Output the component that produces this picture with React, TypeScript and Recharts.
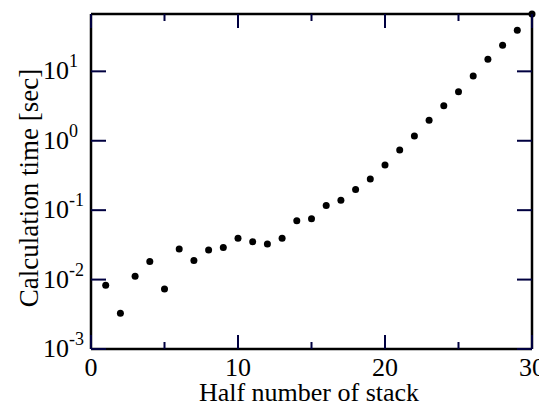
import React from "react";
import { ScatterChart, Scatter, XAxis, YAxis } from "recharts";

const stackHalf = [1, 2, 3, 4, 5, 6, 7, 8, 9, 10, 11, 12, 13, 14, 15, 16, 17, 18, 19, 20, 21, 22, 23, 24, 25, 26, 27, 28, 29, 30];
const calcTime = [0.0083, 0.00328, 0.0112, 0.0182, 0.0073, 0.0275, 0.0188, 0.0266, 0.0291, 0.0393, 0.0351, 0.0325, 0.0393, 0.0706, 0.0755, 0.1166, 0.1395, 0.199, 0.281, 0.449, 0.734, 1.17, 1.97, 3.19, 5.08, 8.55, 14.9, 23.7, 39.0, 67];
const xTicks = [0, 5, 10, 15, 20, 25, 30];
const xLabelTicks = [0, 10, 20, 30];
const yTicks = [0.001, 0.01, 0.1, 1, 10];
const yExponents = ["-3", "-2", "-1", "0", "1"];
const xDomain = [0, 30];
const yDomain = [0.001, 67];

const data = stackHalf.map((x, i) => ({ x, y: calcTime[i] }));

const FONT = "'Liberation Serif', 'Times New Roman', serif";
const MAJOR = 14;
const MINOR = 7;
const YLEN = 15;
const TW = 2;
const TICK_COLOR = "#000040";

const BottomTick = (props: any) => {
  const x = Number(props.x);
  const y = Number(props.y);
  const v = props.payload.value;
  const major = xLabelTicks.includes(v);
  const len = major ? MAJOR : MINOR;
  return (
    <g>
      <rect x={x - TW / 2} y={y - len} width={TW} height={len} fill={TICK_COLOR} />
      {major && (
        <text x={x} y={y + 27} textAnchor="middle" fontSize={26} fontFamily={FONT} fill="#000">
          {v}
        </text>
      )}
    </g>
  );
};

const TopTick = (props: any) => {
  const x = Number(props.x);
  const y = Number(props.y);
  const major = xLabelTicks.includes(props.payload.value);
  const len = major ? MAJOR : MINOR;
  return <rect x={x - TW / 2} y={y} width={TW} height={len} fill={TICK_COLOR} />;
};

const LeftTick = (props: any) => {
  const x = Number(props.x);
  const y = Number(props.y);
  const idx = yTicks.indexOf(props.payload.value);
  const exp = yExponents[idx];
  return (
    <g>
      <rect x={x} y={y - TW / 2} width={YLEN} height={TW} fill={TICK_COLOR} />
      <text x={x - 48} y={y + 8} textAnchor="start" fontSize={26} fontFamily={FONT} fill="#000">
        10
        <tspan fontSize={18} dy={-12}>
          {exp}
        </tspan>
      </text>
    </g>
  );
};

const RightTick = (props: any) => {
  const x = Number(props.x);
  const y = Number(props.y);
  return <rect x={x - YLEN} y={y - TW / 2} width={YLEN} height={TW} fill={TICK_COLOR} />;
};

const Dot = (props: any) => <circle cx={props.cx} cy={props.cy} r={3.5} fill="#000" />;
const NoDot = () => <g />;

export default function App() {
  const axisLine = { stroke: "#000", strokeWidth: 2.5 };
  return (
    <div style={{ width: 539, height: 398 }}>
      <ScatterChart width={539} height={398} margin={{ top: 5, right: 14, left: 0, bottom: 0 }}>
        <XAxis
          xAxisId="b"
          dataKey="x"
          type="number"
          domain={xDomain}
          ticks={xTicks}
          interval={0}
          height={57}
          tickSize={0}
          tickMargin={0}
          axisLine={axisLine}
          tick={<BottomTick />}
        />
        <XAxis
          xAxisId="t"
          dataKey="x"
          orientation="top"
          type="number"
          domain={xDomain}
          ticks={xTicks}
          interval={0}
          height={1}
          tickSize={0}
          tickMargin={0}
          axisLine={axisLine}
          tick={<TopTick />}
        />
        <YAxis
          yAxisId="l"
          dataKey="y"
          type="number"
          scale="log"
          domain={yDomain}
          ticks={yTicks}
          interval={0}
          width={83}
          tickSize={0}
          tickMargin={0}
          axisLine={axisLine}
          tick={<LeftTick />}
        />
        <YAxis
          yAxisId="r"
          dataKey="y"
          orientation="right"
          type="number"
          scale="log"
          domain={yDomain}
          ticks={yTicks}
          interval={0}
          width={1}
          tickSize={0}
          tickMargin={0}
          axisLine={axisLine}
          tick={<RightTick />}
        />
        <Scatter xAxisId="t" yAxisId="r" data={data} isAnimationActive={false} shape={<NoDot />} />
        <Scatter xAxisId="b" yAxisId="l" data={data} isAnimationActive={false} shape={<Dot />} />
        <text x={301} y={393} textAnchor="middle" fontSize={26} fontFamily={FONT} fill="#000">
          Half number of stack
        </text>
        <text
          x={30}
          y={180}
          transform="rotate(-90, 30, 180)"
          textAnchor="middle"
          fontSize={27}
          fontFamily={FONT}
          fill="#000"
        >
          Calculation time [sec]
        </text>
      </ScatterChart>
    </div>
  );
}
